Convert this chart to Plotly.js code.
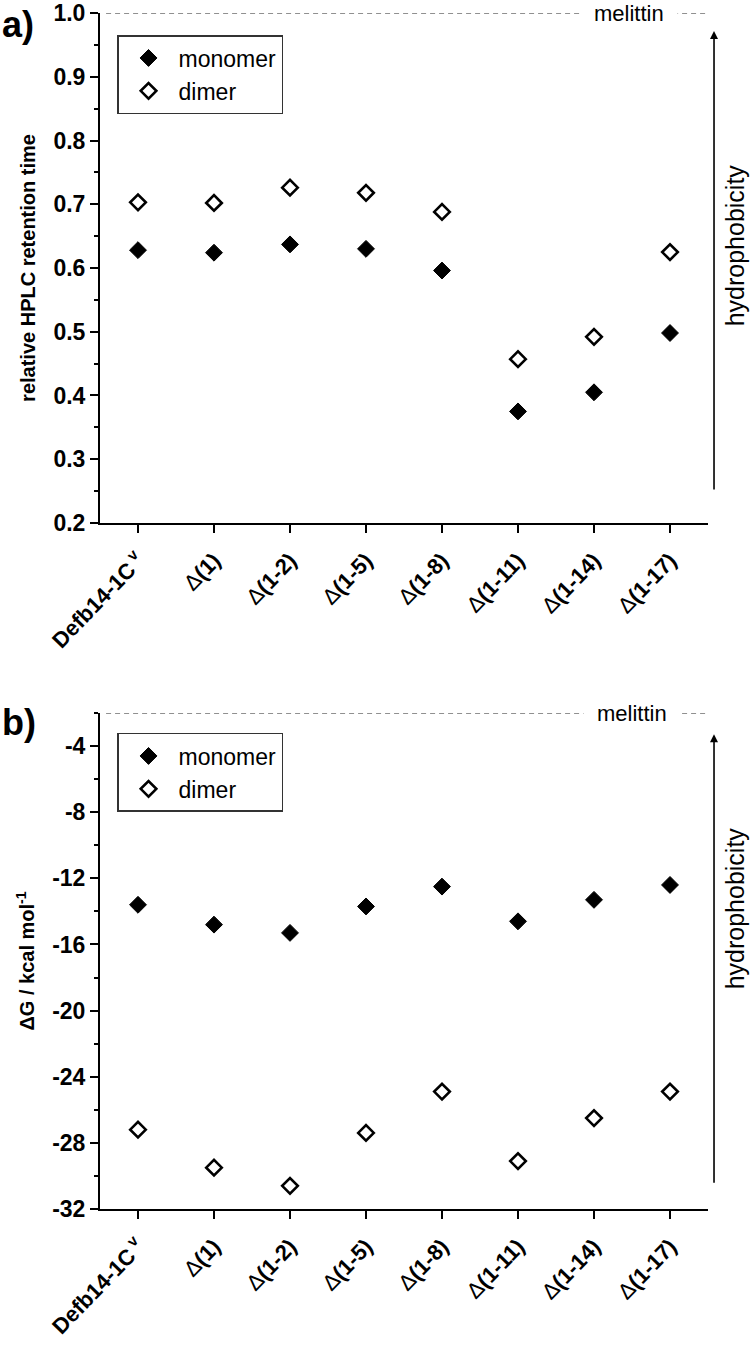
<!DOCTYPE html>
<html>
<head>
<meta charset="utf-8">
<script src="https://cdn.plot.ly/plotly-3.0.1.min.js"></script>
<style>
html,body{margin:0;padding:0;background:#fff;}
#chart{width:750px;height:1346px;}
</style>
</head>
<body>
<div id="chart"></div>
<script>
// ---- data ----
const categories = ['Defb14-1C', 'D(1)', 'D(1-2)', 'D(1-5)', 'D(1-8)', 'D(1-11)', 'D(1-14)', 'D(1-17)'];
const tickLabels = ['<b>Defb14-1C</b><sup><b> v</b></sup>', 'Δ<b>(1)</b>', 'Δ<b>(1-2)</b>', 'Δ<b>(1-5)</b>',
                    'Δ<b>(1-8)</b>', 'Δ<b>(1-11)</b>', 'Δ<b>(1-14)</b>', 'Δ<b>(1-17)</b>'];
const hplcMonomer = [0.628, 0.624, 0.637, 0.630, 0.596, 0.375, 0.405, 0.498];
const hplcDimer   = [0.703, 0.702, 0.726, 0.718, 0.688, 0.457, 0.492, 0.625];
const dgMonomer   = [-13.6, -14.8, -15.3, -13.7, -12.5, -14.6, -13.3, -12.4];
const dgDimer     = [-27.2, -29.5, -30.6, -27.4, -24.9, -29.1, -26.5, -24.9];
const melittinHPLC = 1.0;
const melittinDG = -2;
const seriesNames = ['monomer', 'dimer'];
const hplcTickVals = [0.2, 0.3, 0.4, 0.5, 0.6, 0.7, 0.8, 0.9, 1.0];
const hplcTickText = ['0.2', '0.3', '0.4', '0.5', '0.6', '0.7', '0.8', '0.9', '1.0'];
const dgTickVals = [-32, -28, -24, -20, -16, -12, -8, -4];
const dgTickText = ['-32', '-28', '-24', '-20', '-16', '-12', '-8', '-4'];

const FONT = 'Liberation Sans, Arial, sans-serif';

const filled = {symbol: 'diamond', size: 13, color: '#000', line: {color: '#000', width: 1}};
const open = {symbol: 'diamond-open', size: 12, color: '#000', line: {color: '#000', width: 2.6}};

const traces = [
  {x: categories, y: hplcMonomer, type: 'scatter', mode: 'markers', name: seriesNames[0], marker: filled, xaxis: 'x', yaxis: 'y', legend: 'legend'},
  {x: categories, y: hplcDimer, type: 'scatter', mode: 'markers', name: seriesNames[1], marker: open, xaxis: 'x', yaxis: 'y', legend: 'legend'},
  {x: categories, y: dgMonomer, type: 'scatter', mode: 'markers', name: seriesNames[0], marker: filled, xaxis: 'x2', yaxis: 'y2', legend: 'legend2'},
  {x: categories, y: dgDimer, type: 'scatter', mode: 'markers', name: seriesNames[1], marker: open, xaxis: 'x2', yaxis: 'y2', legend: 'legend2'}
];

function xAxis(anchor) {
  return {
    anchor: anchor, domain: [0, 1], type: 'category', range: [-0.5, 7.5],
    tickmode: 'array', tickvals: categories, ticktext: tickLabels, tickangle: -46,
    ticks: 'outside', ticklen: 8, tickwidth: 2, tickcolor: '#000', ticklabelstandoff: 6,
    showline: true, linecolor: '#000', linewidth: 2, mirror: false,
    showgrid: false, zeroline: false,
    tickfont: {family: FONT, size: 22, color: '#000'}
  };
}
function yAxis(anchor, domain, range, vals, text, minorDtick, titleText) {
  return {
    anchor: anchor, domain: domain, range: range,
    tickmode: 'array', tickvals: vals, ticktext: text, ticklabeloverflow: 'allow',
    ticks: 'outside', ticklen: 8, tickwidth: 2, tickcolor: '#000',
    minor: {tickmode: 'linear', tick0: 0, dtick: minorDtick, ticks: 'outside', ticklen: 4, tickwidth: 2, tickcolor: '#000', showgrid: false},
    showline: true, linecolor: '#000', linewidth: 2,
    showgrid: false, zeroline: false,
    tickfont: {family: FONT, size: 23, color: '#000', weight: 'bold'},
    title: {text: titleText, font: {family: FONT, size: 20, color: '#000', weight: 'bold'}, standoff: 12}
  };
}

const legendStyle = (y) => ({
  x: 0.028, y: y, xanchor: 'left', yanchor: 'top', bgcolor: '#fff',
  bordercolor: '#333', borderwidth: 1.5, itemwidth: 50,
  font: {family: FONT, size: 23, color: '#000'}
});

const layout = {
  width: 750, height: 1346,
  margin: {l: 100, r: 42, t: 13, b: 137},
  paper_bgcolor: '#fff', plot_bgcolor: '#fff',
  font: {family: FONT, color: '#000'},
  showlegend: true,
  xaxis: xAxis('y'),
  yaxis: yAxis('x', [0.5736, 1], [0.2, 1.00001], hplcTickVals, hplcTickText, 0.05, 'relative HPLC retention time'),
  xaxis2: xAxis('y2'),
  yaxis2: yAxis('x2', [0, 0.4147], [-32, -2], dgTickVals, dgTickText, 2, 'ΔG / kcal mol<sup>-1</sup>'),
  legend: legendStyle(0.9816),
  legend2: legendStyle(0.398),
  shapes: [
    {type: 'line', xref: 'x domain', yref: 'y', x0: 0.01, x1: 1, y0: melittinHPLC, y1: melittinHPLC,
     line: {color: '#222', width: 1.2, dash: '5px,4px'}},
    {type: 'line', xref: 'x2 domain', yref: 'y2', x0: 0.01, x1: 1, y0: melittinDG, y1: melittinDG,
     line: {color: '#222', width: 1.2, dash: '5px,4px'}}
  ],
  annotations: [
    {text: 'melittin', xref: 'x domain', yref: 'y', x: 0.87, y: melittinHPLC, showarrow: false,
     xanchor: 'center', yanchor: 'middle',
     bgcolor: '#fff', borderpad: 13, font: {family: FONT, size: 22, color: '#000'}},
    {text: 'melittin', xref: 'x2 domain', yref: 'y2', x: 0.875, y: melittinDG, showarrow: false,
     xanchor: 'center', yanchor: 'middle',
     bgcolor: '#fff', borderpad: 13, font: {family: FONT, size: 22, color: '#000'}},
    // hydrophobicity arrows
    {text: '', xref: 'paper', yref: 'paper', x: 1.0099, y: 0.985, ax: 0, ay: 460,
     showarrow: true, arrowhead: 2, arrowsize: 1, arrowwidth: 1.6, arrowcolor: '#000'},
    {text: '', xref: 'paper', yref: 'paper', x: 1.0099, y: 0.397, ax: 0, ay: 450,
     showarrow: true, arrowhead: 2, arrowsize: 1, arrowwidth: 1.6, arrowcolor: '#000'},
    {text: 'hydrophobicity', xref: 'paper', yref: 'paper', x: 1.045, y: (1207 - 243) / 1196, textangle: -90,
     xanchor: 'center', yanchor: 'middle',
     showarrow: false, font: {family: FONT, size: 25, color: '#000'}},
    {text: 'hydrophobicity', xref: 'paper', yref: 'paper', x: 1.045, y: (1207 - 906) / 1196, textangle: -90,
     xanchor: 'center', yanchor: 'middle',
     showarrow: false, font: {family: FONT, size: 25, color: '#000'}},
    // panel labels
    {text: '<b>a)</b>', xref: 'paper', yref: 'paper', x: -0.165, y: (1207 - 22) / 1196, xanchor: 'left', yanchor: 'middle',
     showarrow: false, font: {family: FONT, size: 36, color: '#000'}},
    {text: '<b>b)</b>', xref: 'paper', yref: 'paper', x: -0.165, y: (1207 - 720) / 1196, xanchor: 'left', yanchor: 'middle',
     showarrow: false, font: {family: FONT, size: 36, color: '#000'}}
  ]
};

Plotly.newPlot('chart', traces, layout, {displayModeBar: false, staticPlot: true});
</script>
</body>
</html>
